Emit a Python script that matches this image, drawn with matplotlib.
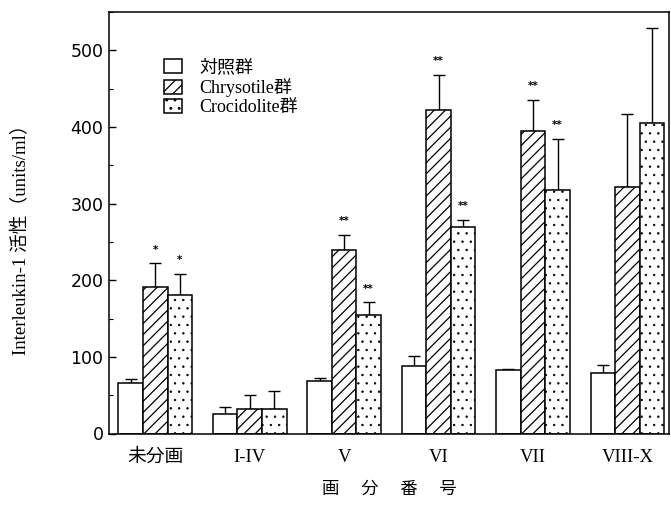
import matplotlib
matplotlib.use("Agg")
import matplotlib.pyplot as plt
import numpy as np
from matplotlib.ticker import MultipleLocator

plt.rcParams['hatch.linewidth'] = 0.9

categories = ['未分画', 'I-IV', 'V', 'VI', 'VII', 'VIII-X']
series_names = ['対照群', 'Chrysotile群', 'Crocidolite群']
control = [66, 25, 69, 88, 83, 79]
control_err = [5, 9, 4, 13, 1, 11]
chrysotile = [191, 32, 239, 422, 395, 321]
chrysotile_err = [31, 18, 20, 46, 40, 96]
crocidolite = [181, 32, 155, 269, 318, 405]
crocidolite_err = [27, 23, 16, 10, 66, 124]
chrysotile_sig = ['*', '', '**', '**', '**', '']
crocidolite_sig = ['*', '', '**', '**', '**', '']

serif_cjk = ['Liberation Serif', 'Noto Sans CJK JP']

fig = plt.figure(figsize=(6.71, 5.05), dpi=100)
ax = fig.add_axes([109/671, 1-433.5/505, (669-109)/671, (433.5-12)/505])

x = np.arange(len(categories))
w = 0.26
vals = [control, chrysotile, crocidolite]
errs = [control_err, chrysotile_err, crocidolite_err]
hatches = ['', '///', '..']
hatch_lw = [0.9, 0.9, 0.5]
sigs = [None, chrysotile_sig, crocidolite_sig]
for k in range(3):
    pos = x + (k - 1) * w
    bars = ax.bar(pos, vals[k], width=w, color='white', edgecolor='black',
                  linewidth=1.1, hatch=hatches[k], label=series_names[k], zorder=2)
    for p in bars.patches:
        if hasattr(p, 'set_hatch_linewidth'):
            p.set_hatch_linewidth(hatch_lw[k])
    ax.errorbar(pos, vals[k], yerr=[np.zeros(len(x)), errs[k]], fmt='none',
                ecolor='black', elinewidth=1.0, capsize=4, capthick=1.0, zorder=1)
    if sigs[k] is not None:
        for p, v, e, s in zip(pos, vals[k], errs[k], sigs[k]):
            if s:
                ax.text(p, v + e + 18, s, ha='center', va='center',
                        fontsize=7.5, fontweight='bold', family='DejaVu Sans')

ax.set_xlim(-0.49, 5.44)
ax.set_ylim(0, 550)
ax.yaxis.set_major_locator(MultipleLocator(100))
ax.yaxis.set_minor_locator(MultipleLocator(50))
ax.tick_params(axis='y', which='major', direction='in', length=5, width=1, pad=4)
ax.tick_params(axis='y', which='minor', direction='in', length=3, width=0.8)
ax.tick_params(axis='x', length=0, pad=11)
ax.set_yticks([0, 100, 200, 300, 400, 500])
ax.set_yticklabels(['0', '100', '200', '300', '400', '500'], family='DejaVu Sans', fontsize=12.5)
ax.set_xticks(x)
ax.set_xticklabels(categories, family=serif_cjk, fontsize=13.5)
for sp in ax.spines.values():
    sp.set_linewidth(1.1)

ax.set_xlabel('画　 分　 番　 号', family=serif_cjk, fontsize=12.5, labelpad=11)
ax.set_ylabel('Interleukin-1 活性（units/ml）', family=serif_cjk, fontsize=13.5)
ax.yaxis.set_label_coords(-0.14, 0.47)

leg = ax.legend(loc='upper left', bbox_to_anchor=(0.075, 0.918), frameon=False,
                prop={'family': serif_cjk, 'size': 13},
                handlelength=1.0, handleheight=0.8, handletextpad=1.0,
                labelspacing=0.1, borderpad=0.2)

fig.savefig('out.png', dpi=100)
